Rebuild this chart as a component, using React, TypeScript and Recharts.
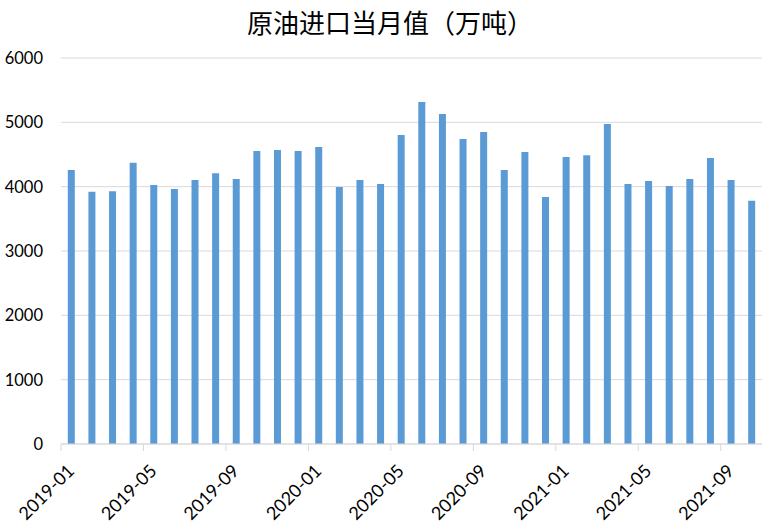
import React from 'react';
import { BarChart, Bar, XAxis, YAxis, CartesianGrid } from 'recharts';

const months = [
  '2019-01','2019-02','2019-03','2019-04','2019-05','2019-06','2019-07','2019-08','2019-09','2019-10','2019-11','2019-12',
  '2020-01','2020-02','2020-03','2020-04','2020-05','2020-06','2020-07','2020-08','2020-09','2020-10','2020-11','2020-12',
  '2021-01','2021-02','2021-03','2021-04','2021-05','2021-06','2021-07','2021-08','2021-09','2021-10',
];
const crudeImports = [
  4260, 3920, 3930, 4370, 4025, 3965, 4105, 4210, 4120, 4555, 4570, 4555,
  4615, 3995, 4105, 4040, 4805, 5315, 5130, 4740, 4850, 4260, 4540, 3840,
  4460, 4490, 4975, 4040, 4090, 4010, 4120, 4445, 4105, 3780,
];
const yTicks = [0, 1000, 2000, 3000, 4000, 5000, 6000];
const title = '原油进口当月值（万吨）';

const data = months.map((m, i) => ({ month: m, value: crudeImports[i] }));

const XTick = (props: any) => {
  const { x, y, payload } = props;
  const off = payload && payload.offset ? payload.offset : 0;
  const tx = x + 4;
  const ty = y + 20;
  return (
    <g>
      <line x1={x - off} x2={x - off} y1={y - 8} y2={y - 1} stroke="#d9d9d9" strokeWidth={1} />
      <text
        x={tx}
        y={ty}
        textAnchor="end"
        transform={`rotate(-45, ${tx}, ${ty})`}
        fontSize={18}
        fontFamily="Lato, 'Liberation Sans', sans-serif"
        fill="#000"
      >
        {payload.value}
      </text>
    </g>
  );
};

export default function App() {
  return (
    <div style={{ position: 'absolute', left: 0, top: 0, width: 780, height: 530, background: '#fff' }}>
      <div
        style={{
          position: 'absolute',
          top: 5,
          left: 0,
          width: 780,
          textAlign: 'center',
          fontFamily: "'Noto Sans CJK SC', sans-serif",
          fontSize: 26,
          color: '#000',
          lineHeight: '34px',
        }}
      >
        {title}
      </div>
      <BarChart
        width={780}
        height={530}
        data={data}
        margin={{ top: 58, right: 18, bottom: 0, left: 0 }}
        barCategoryGap="33%"
      >
        <CartesianGrid vertical={false} stroke="#d9d9d9" />
        <XAxis
          dataKey="month"
          interval={3}
          height={86}
          tickLine={false}
          axisLine={{ stroke: '#d9d9d9' }}
          tick={<XTick />}
        />
        <YAxis
          width={61}
          domain={[0, 6000]}
          ticks={yTicks}
          axisLine={false}
          tickLine={false}
          tickMargin={12}
          tick={{ fontSize: 16.5, fill: '#000', fontFamily: "Lato, 'Liberation Sans', sans-serif" }}
        />
        <Bar dataKey="value" fill="#5b9bd5" isAnimationActive={false} />
      </BarChart>
    </div>
  );
}
